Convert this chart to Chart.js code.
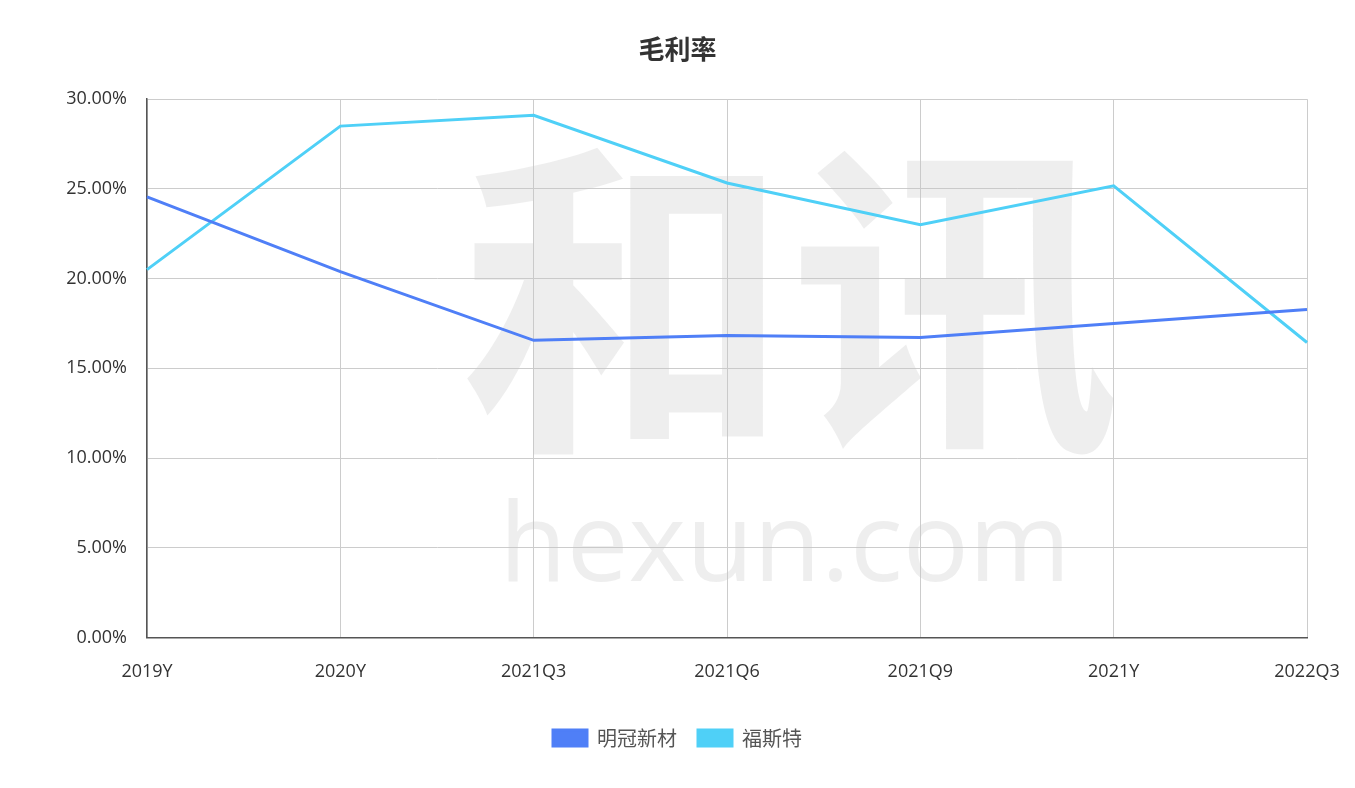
<!DOCTYPE html>
<html><head><meta charset="utf-8">
<script src="https://cdn.jsdelivr.net/npm/chart.js@4"></script>
<style>html,body{margin:0;background:#fff}#wrap{width:1355px;height:788px}</style>
</head><body><div id="wrap"><canvas id="c"></canvas></div>
<script>
const categories = ['2019Y', '2020Y', '2021Q3', '2021Q6', '2021Q9', '2021Y', '2022Q3'];
const mingguan = [24.56, 20.39, 16.56, 16.83, 16.72, 17.5, 18.28];
const fusite = [20.5, 28.5, 29.1, 25.33, 23.0, 25.17, 16.44];
const FONT = "'Noto Sans CJK SC', 'Noto Sans', sans-serif";
const TICKFONT = "'Open Sans', 'Noto Sans', sans-serif";

// light watermark behind the plot
const watermark = {
  id: 'watermark',
  beforeDatasetsDraw(chart) {
    const { ctx } = chart;
    ctx.save();
    ctx.fillStyle = 'rgba(200,200,200,0.3)';
    ctx.textAlign = 'center';
    ctx.textBaseline = 'middle';
    ctx.font = "bold 330px " + FONT;
    ctx.fillText('和讯', 790, 300);
    ctx.font = "110px " + TICKFONT;
    ctx.fillText('hexun.com', 785, 550);
    ctx.restore();
  }
};

new Chart(document.getElementById('c'), {
  type: 'line',
  data: {
    labels: categories,
    datasets: [
      { label: '明冠新材', data: mingguan, borderColor: '#4f7ff7', backgroundColor: '#4f7ff7', borderWidth: 3, pointRadius: 0, tension: 0 },
      { label: '福斯特', data: fusite, borderColor: '#4fd0f7', backgroundColor: '#4fd0f7', borderWidth: 3, pointRadius: 0, tension: 0 }
    ]
  },
  options: {
    responsive: true,
    maintainAspectRatio: false,
    animation: false,
    layout: { padding: { left: 48, right: 48, top: 10, bottom: 30 } },
    plugins: {
      title: { display: true, text: '毛利率', color: '#333', font: { family: FONT, size: 26, weight: 'bold' }, padding: { top: 24, bottom: 34 } },
      legend: {
        position: 'bottom',
        labels: { color: '#555', font: { family: FONT, size: 20 }, boxWidth: 34, boxHeight: 16, padding: 21 }
      },
      tooltip: { enabled: false }
    },
    scales: {
      x: {
        afterFit(s) { s.paddingLeft = 0; s.paddingRight = 0; },
        grid: { color: '#ccc', drawTicks: false },
        border: { color: '#555', width: 1.5 },
        ticks: { color: '#333', font: { family: TICKFONT, size: 18 }, padding: 24, maxRotation: 0 }
      },
      y: {
        min: 0, max: 30,
        afterFit(s) { s.width = 99; },
        grid: { color: '#ccc', drawTicks: false },
        border: { color: '#555', width: 1.5 },
        ticks: { stepSize: 5, color: '#333', font: { family: TICKFONT, size: 18 }, padding: 20, callback: v => v.toFixed(2) + '%' }
      }
    }
  },
  plugins: [watermark]
});
</script></body></html>
